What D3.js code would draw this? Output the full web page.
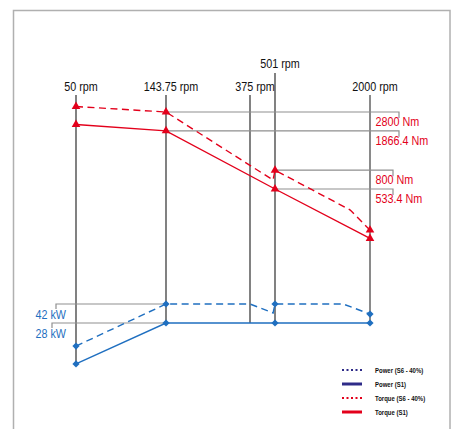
<!DOCTYPE html>
<html><head><meta charset="utf-8">
<script src="https://cdn.jsdelivr.net/npm/d3@7"></script>
<style>
html,body{margin:0;padding:0;background:#fff;}
svg{display:block;}
text{font-family:"Liberation Sans Narrow","Liberation Sans",Arial,sans-serif;}
</style></head>
<body><svg id="chart" width="452" height="429"></svg>
<script>
// ---- data ----
const rpmTicks = [50, 143.75, 375, 501, 2000];
const markerRpms = [50, 143.75, 501, 2000];

const torqueS6Rpm = [50, 143.75, 490, 501, 1500, 2000];
const torqueS6 = [3150, 2800, 647, 800, 339, 220];
const torqueS1Rpm = [50, 143.75, 501, 2000];
const torqueS1 = [2140, 1866.4, 533.4, 184];

const powerS6Rpm = [50, 143.75, 375, 490, 501, 1350, 2000];
const powerS6 = [17.1, 42, 42, 34.7, 42, 42, 33.9];
const powerS1Rpm = [50, 143.75, 501, 2000];
const powerS1 = [11.7, 28, 28, 28];

const torqueLabelRpm = [143.75, 143.75, 501, 501];
const torqueLabelVal = [2800, 1866.4, 800, 533.4];
const powerLabelRpm = [143.75, 143.75];
const powerLabelVal = [42, 28];

const legendLabels = ["Power (S6 - 40%)", "Power (S1)", "Torque (S6 - 40%)", "Torque (S1)"];

// ---- styles ----
const RED = "#e3001b", BLUE = "#1f6fc0", NAVY = "#2e2b88";
const SX = 0.83; // condensed look

const svg = d3.select("#chart");

// frame
svg.append("rect").attr("x", 13.5).attr("y", 10.5).attr("width", 436.5).attr("height", 440)
  .attr("fill", "none").attr("stroke", "#b0b0b0").attr("stroke-width", 1.5);

// scales
const x = d3.scaleLog().domain(rpmTicks).range([76, 166, 250, 275, 370]);
const yT = d3.scaleLog().domain([533.4, 2800]).range([189, 112]);
const yP = d3.scaleLog().domain([28, 42]).range([323, 304]);

const zip = (a, b) => a.map((d, i) => [d, b[i]]);
function powerS1At(r) {
  return d3.scaleLog().domain(powerS1Rpm).range(powerS1)(r);
}

const g = svg.append("g");
function ctext(px, py, str, size, fill, anchor, weight, sx) {
  return g.append("text")
    .attr("transform", `translate(${px},${py}) scale(${sx || SX},1)`)
    .attr("text-anchor", anchor || "start").attr("font-size", size)
    .attr("font-weight", weight || "normal").attr("fill", fill).text(str);
}

// vertical rpm lines
rpmTicks.forEach(r => {
  const top = r === 501 ? 73 : 95;
  const last = r === 2000;
  g.append("line").attr("x1", x(r)).attr("x2", x(r))
    .attr("y1", top).attr("y2", yP(powerS1At(r)))
    .attr("stroke", last ? "#8a8a8a" : "#1a1a1a").attr("stroke-width", last ? 2 : 1.1);
  ctext(x(r) + 5, r === 501 ? 68 : 91, d3.format("~f")(r) + " rpm", 13, "#111", "middle");
});

// torque leader lines + labels
torqueLabelVal.forEach((v, i) => {
  const r = torqueLabelRpm[i];
  const y0 = yT(v);
  const xe = i < 2 ? 399 : 393;
  g.append("path").attr("d", `M${x(r)},${y0}H${xe}V${y0 + 6}`)
    .attr("fill", "none").attr("stroke", "#8f8f8f").attr("stroke-width", 1.2);
  ctext(375.5, y0 + 14, v + " Nm", 13, RED);
});

// power leader lines + labels
powerLabelVal.forEach((v, i) => {
  const r = powerLabelRpm[i];
  const y0 = yP(v);
  const xs = i === 0 ? 56 : 52;
  g.append("path").attr("d", `M${x(r)},${y0}H${xs}V${y0 + 5}`)
    .attr("fill", "none").attr("stroke", "#8f8f8f").attr("stroke-width", 1.2);
  ctext(66, y0 + 15, v + " kW", 13, BLUE, "end");
});

// series
function drawSeries(rpms, vals, yScale, color, dashed, symbol) {
  const pts = zip(rpms, vals);
  const line = d3.line().x(d => x(d[0])).y(d => yScale(d[1]));
  g.append("path").datum(pts).attr("d", line).attr("fill", "none")
    .attr("stroke", color).attr("stroke-width", 1.4)
    .attr("stroke-dasharray", dashed ? "7,4.5" : null);
  const sym = symbol === "tri" ? d3.symbol().type(d3.symbolTriangle).size(32)
                               : d3.symbol().type(d3.symbolSquare).size(26);
  g.selectAll(null).data(pts.filter(d => markerRpms.includes(d[0]))).enter()
    .append("path").attr("d", sym)
    .attr("transform", d => `translate(${x(d[0])},${yScale(d[1])})` + (symbol === "tri" ? "" : " rotate(45)"))
    .attr("fill", color);
}
drawSeries(torqueS6Rpm, torqueS6, yT, RED, true, "tri");
drawSeries(torqueS1Rpm, torqueS1, yT, RED, false, "tri");
drawSeries(powerS6Rpm, powerS6, yP, BLUE, true, "dia");
drawSeries(powerS1Rpm, powerS1, yP, BLUE, false, "dia");

// legend
const legColors = [NAVY, NAVY, RED, RED];
const legDotted = [true, false, true, false];
legendLabels.forEach((t, i) => {
  const yy = 370 + i * 14;
  g.append("line").attr("x1", 342).attr("x2", 362).attr("y1", yy).attr("y2", yy)
    .attr("stroke", legColors[i]).attr("stroke-width", legDotted[i] ? 1.8 : 3)
    .attr("stroke-dasharray", legDotted[i] ? "2,2.5" : null);
  ctext(375, yy + 2.7, t, 7.5, "#111", "start", "bold", 0.8);
});
</script></body></html>
